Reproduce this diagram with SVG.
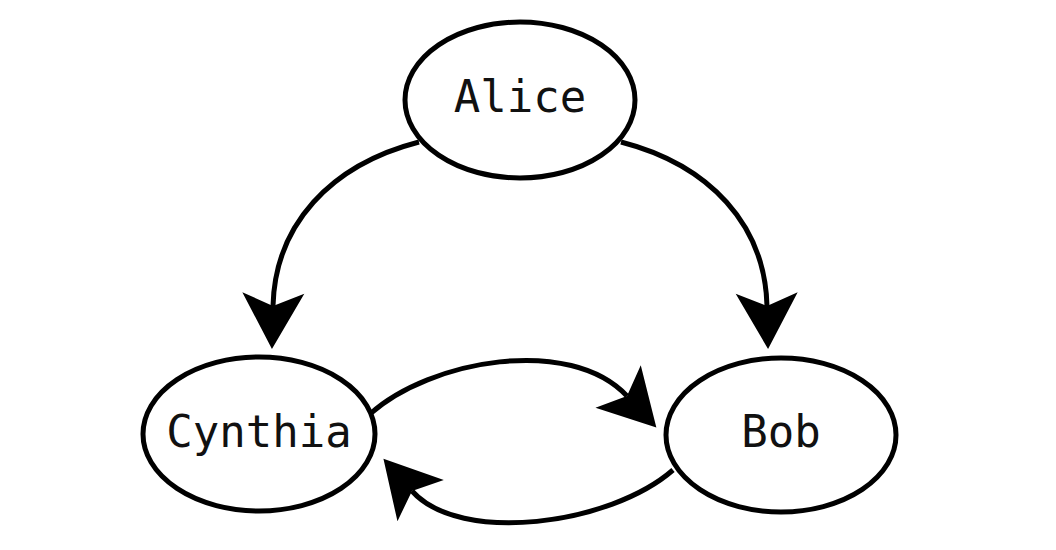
<svg xmlns="http://www.w3.org/2000/svg" width="1056" height="550" viewBox="0 0 1056 550">
<style>
.node ellipse{fill:#fff;stroke:#000;stroke-width:5}
.node text{font-family:"DejaVu Sans Mono",monospace;font-size:44px;fill:#111;text-anchor:middle}
.edge{fill:none;stroke:#000;stroke-width:5;marker-end:url(#arr)}
</style>
<defs>
<marker id="arr" markerUnits="userSpaceOnUse" viewBox="0 0 56 62" markerWidth="56" markerHeight="62" refX="13" refY="31" orient="auto" overflow="visible">
<path d="M0,0 L56,31 L0,62 L13,31 Z" fill="#000"/>
</marker>
</defs>
<rect width="1056" height="550" fill="#fff"/>
<g id="connectors">
<path class="edge" d="M419,142 C330,165 275,225 273,306"/>
<path class="edge" d="M621,142 C710,165 765,225 767,306"/>
<path class="edge" d="M370,414 C430,360 570,335 627,396"/>
<path class="edge" d="M673,470 C610,525 460,545 412,491"/>
</g>
<g id="alice" class="node"><ellipse cx="520" cy="100" rx="115" ry="78"/><text x="520" y="112">Alice</text></g>
<g id="cynthia" class="node"><ellipse cx="259" cy="434" rx="116" ry="77"/><text x="259" y="447">Cynthia</text></g>
<g id="bob" class="node"><ellipse cx="781" cy="435" rx="115" ry="77"/><text x="781" y="447">Bob</text></g>
</svg>
